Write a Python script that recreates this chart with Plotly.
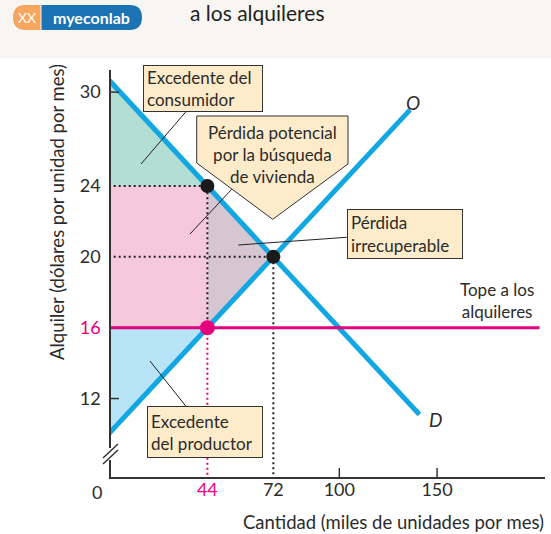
import plotly.graph_objects as go

# --- data ---
demand_q = [0, 134]          # D line end points (quantity)
demand_p = [30.3, 11.1]      # D line end points (rent)
supply_q = [0, 130]          # O line end points
supply_p = [9.7, 28.3]
rent_ceiling = 16
ceiling_q = [0, 185]
q_supplied = 44              # quantity supplied at the ceiling
p_demand = 24                # price buyers would pay for 44
eq_q = 72
eq_p = 20

x_tick_labels = ["44", "72", "100", "150"]
y_tick_labels = ["12", "16", "20", "24", "30"]

# --- colours ---
BLUE = "#12a7e2"
PINK = "#e6007e"
BOX = "#fdebc9"
TXT = "#2b2b2b"
FONT = "Lato"

# plot area in pixels (551 x 534 canvas)
L, R, T, B = 111, 545, 70, 477
X0, X1 = 3.1, 187.3
Y0, Y1 = 7.57, 30.55


def px(x):
    return (x - L) / (R - L)


def py(y):
    return (B - y) / (B - T)


def path(cmds):
    out = ""
    for c, pts in cmds:
        out += c + " ".join(f"{px(a):.4f},{py(b):.4f}" for a, b in pts) + " "
    return out + "Z"


fig = go.Figure()

# shaded areas
fig.add_trace(go.Scatter(
    x=[0, q_supplied, 0], y=[demand_p[0], p_demand, p_demand],
    fill="toself", fillcolor="#b2ded3", line=dict(width=0), mode="lines", hoverinfo="skip"))
fig.add_trace(go.Scatter(
    x=[0, q_supplied, q_supplied, 0], y=[rent_ceiling, rent_ceiling, p_demand, p_demand],
    fill="toself", fillcolor="#f6c8dc", line=dict(width=0), mode="lines", hoverinfo="skip"))
fig.add_trace(go.Scatter(
    x=[q_supplied, eq_q, q_supplied], y=[p_demand, eq_p, rent_ceiling],
    fill="toself", fillcolor="#d6c6d2", line=dict(width=0), mode="lines", hoverinfo="skip"))
fig.add_trace(go.Scatter(
    x=[0, q_supplied, 0], y=[rent_ceiling, rent_ceiling, supply_p[0]],
    fill="toself", fillcolor="#b7e4f6", line=dict(width=0), mode="lines", hoverinfo="skip"))

# dotted guide lines
dots = dict(color="#222222", width=2, dash="2px,3px")
fig.add_trace(go.Scatter(x=[0, q_supplied, q_supplied], y=[p_demand, p_demand, rent_ceiling],
                         mode="lines", line=dots, hoverinfo="skip"))
fig.add_trace(go.Scatter(x=[0, eq_q, eq_q], y=[eq_p, eq_p, Y0],
                         mode="lines", line=dots, hoverinfo="skip"))
fig.add_trace(go.Scatter(x=[q_supplied, q_supplied], y=[rent_ceiling, Y0],
                         mode="lines", line=dict(color=PINK, width=2, dash="2px,3px"), hoverinfo="skip"))

# supply and demand
fig.add_trace(go.Scatter(x=demand_q, y=demand_p, mode="lines",
                         line=dict(color=BLUE, width=5), hoverinfo="skip"))
fig.add_trace(go.Scatter(x=supply_q, y=supply_p, mode="lines",
                         line=dict(color=BLUE, width=5), hoverinfo="skip"))
# rent ceiling
fig.add_trace(go.Scatter(x=ceiling_q, y=[rent_ceiling, rent_ceiling], mode="lines",
                         line=dict(color=PINK, width=3), hoverinfo="skip"))

# points
fig.add_trace(go.Scatter(x=[q_supplied, eq_q], y=[p_demand, eq_p], mode="markers",
                         marker=dict(color="#1a1a1a", size=14), hoverinfo="skip"))
fig.add_trace(go.Scatter(x=[q_supplied], y=[rent_ceiling], mode="markers",
                         marker=dict(color=PINK, size=15), hoverinfo="skip"))

shapes = []
# header band
shapes.append(dict(type="rect", xref="paper", yref="paper", x0=px(0), x1=px(551),
                   y0=py(58), y1=py(0), fillcolor="#f7f6f2", line_width=0, layer="below"))
# logo pill
shapes.append(dict(type="path", xref="paper", yref="paper", fillcolor="#f6a65f", line_width=0,
                   path=path([("M", [(40.5, 5)]), ("L", [(25.5, 5)]), ("Q", [(13, 5), (13, 17.5)]),
                              ("Q", [(13, 30), (25.5, 30)]), ("L", [(40.5, 30)])])))
shapes.append(dict(type="path", xref="paper", yref="paper", fillcolor="#1b73b3", line_width=0,
                   path=path([("M", [(41.5, 5)]), ("L", [(129.5, 5)]), ("Q", [(142, 5), (142, 17.5)]),
                              ("Q", [(142, 30), (129.5, 30)]), ("L", [(41.5, 30)])])))

# tick marks (inside)
for yv in [12, 29.3]:
    shapes.append(dict(type="line", xref="paper", yref="y", x0=0, x1=px(L + 8), y0=yv, y1=yv,
                       line=dict(color="#333", width=1.5)))
for xv in [100, 141.5]:
    shapes.append(dict(type="line", xref="x", yref="paper", x0=xv, x1=xv, y0=0, y1=py(B - 9),
                       line=dict(color="#333", width=1.5)))

# axis break
shapes.append(dict(type="line", xref="paper", yref="paper", x0=0, x1=0, y0=py(460), y1=py(448),
                   line=dict(color="white", width=4)))
for off in (0, 6):
    shapes.append(dict(type="line", xref="paper", yref="paper", x0=px(103), x1=px(118),
                       y0=py(458 + off), y1=py(444 + off), line=dict(color="#333", width=1.5)))

# pentagon callout
shapes.append(dict(type="path", xref="paper", yref="paper", fillcolor=BOX,
                   line=dict(color="#333", width=1),
                   path=path([("M", [(196.7, 116)]), ("L", [(348, 116)]), ("L", [(348, 164)]),
                              ("L", [(272.7, 219.3)]), ("L", [(196.7, 163)])])))

# leader lines
for (a, b), (c, d) in [((185.7, 112), (141, 164)), ((231.7, 189.3), (190, 234)),
                       ((346.7, 237.3), (238.3, 245)), ((185.7, 406), (150, 361))]:
    shapes.append(dict(type="line", xref="paper", yref="paper", x0=px(a), y0=py(b), x1=px(c), y1=py(d),
                       line=dict(color="#222", width=1)))

ann = []


def text(x, y, s, size=17, color=TXT, xanchor="center", **kw):
    ann.append(dict(xref="paper", yref="paper", x=px(x), y=py(y), text=s, showarrow=False,
                    xanchor=xanchor, yanchor="middle",
                    font=dict(family=FONT, size=size, color=color), **kw))


def box(x0, y0, x1, y1, s):
    ann.append(dict(xref="paper", yref="paper", x=px((x0 + x1) / 2), y=py((y0 + y1) / 2),
                    xanchor="center", yanchor="middle",
                    text=s, showarrow=False, align="left", valign="middle",
                    width=x1 - x0 - 8, height=y1 - y0 - 8, borderpad=3,
                    bgcolor=BOX, bordercolor="#333", borderwidth=1,
                    font=dict(family=FONT, size=17, color=TXT)))


box(142.7, 65, 262.7, 111.7, "Excedente del<br>consumidor")
box(346.7, 209.3, 462.7, 259.3, "Pérdida<br>irrecuperable")
box(147.3, 406, 263.3, 458.3, "Excedente<br>del productor")
text(272.5, 154, "Pérdida potencial<br>por la búsqueda<br>de vivienda", align="center")

text(497, 300, "Tope a los<br>alquileres", align="center")
text(413, 103, "<i>O</i>", size=19)
text(435, 419, "<i>D</i>", size=19)
text(97, 491.7, "0", size=18)
text(57, 212, "Alquiler (dólares por unidad por mes)", size=18.5, textangle=-90)
text(546, 522, "Cantidad (miles de unidades por mes)", size=18.5, xanchor="right")
text(188, 13, "a los alquileres", size=21, color="#231f20", xanchor="left")
text(91.5, 17.5, "<b>myeconlab</b>", size=16, color="white")
text(27, 17.5, "XX", size=14, color="white")

fig.update_layout(
    width=551, height=534,
    margin=dict(l=L, r=551 - R, t=T, b=534 - B),
    paper_bgcolor="white", plot_bgcolor="white",
    showlegend=False,
    shapes=shapes, annotations=ann,
    font=dict(family=FONT, size=18, color=TXT),
    xaxis=dict(range=[X0, X1], showgrid=False, zeroline=False, showline=True,
               linecolor="#333", linewidth=1.5, ticks="",
               tickvals=[44, 72, 100, 141.5],
               ticktext=[f"<span style='color:{PINK}'>{x_tick_labels[0]}</span>"] + x_tick_labels[1:],
               ticklabelstandoff=-4),
    yaxis=dict(range=[Y0, Y1], showgrid=False, zeroline=False, showline=True,
               linecolor="#333", linewidth=1.5, ticks="",
               tickvals=[12, 16, 20, 24, 29.3],
               ticktext=[y_tick_labels[0], f"<span style='color:{PINK}'>{y_tick_labels[1]}</span>"]
               + y_tick_labels[2:],
               ticklabelstandoff=5),
)

fig.write_html("out.html", config={"displayModeBar": False},
               post_script="document.body.style.margin='0';")
